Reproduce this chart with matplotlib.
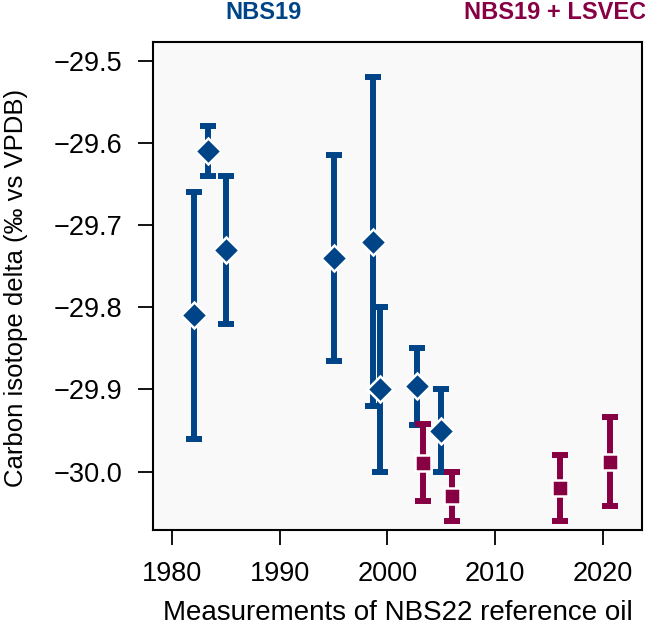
import matplotlib
matplotlib.use("Agg")
import matplotlib.pyplot as plt

plt.rcParams["font.family"] = ["Liberation Sans", "DejaVu Sans"]

# NBS19-calibrated measurements
nbs19_year = [1982, 1983.3, 1985, 1995, 1998.7, 1999.3, 2002.7, 2005]
nbs19_delta = [-29.81, -29.61, -29.73, -29.74, -29.72, -29.90, -29.896, -29.95]
nbs19_err = [0.15, 0.03, 0.09, 0.125, 0.20, 0.10, 0.047, 0.05]

# NBS19 + LSVEC two-point calibration
lsvec_year = [2003.3, 2006, 2016, 2020.7]
lsvec_delta = [-29.989, -30.03, -30.02, -29.988]
lsvec_err = [0.047, 0.03, 0.04, 0.054]

yticks = [-29.5, -29.6, -29.7, -29.8, -29.9, -30.0]
xticks = [1980, 1990, 2000, 2010, 2020]

blue = "#004488"
wine = "#880044"

fig = plt.figure(figsize=(6.45, 6.36), dpi=100)
ax = fig.add_axes([0.2377, 0.1667, 0.9953 - 0.2377, 0.934 - 0.1667])
ax.set_facecolor("#f9f9f9")

for yr, d, e, col, mk, ms in [
    (nbs19_year, nbs19_delta, nbs19_err, blue, "D", 13.5),
    (lsvec_year, lsvec_delta, lsvec_err, wine, "s", 11.5),
]:
    ax.errorbar(yr, d, yerr=e, fmt="none", ecolor=col, elinewidth=4.3,
                capsize=6, capthick=4.3, zorder=2)
    ax.plot(yr, d, linestyle="none", marker=mk, markersize=ms, color=col,
            markeredgecolor="white", markeredgewidth=1.8, zorder=3)

ax.set_xlim(1978.24, 2023.65)
ax.set_ylim(-30.0709, -29.4773)
ax.set_xticks(xticks)
ax.set_yticks(yticks)
ax.set_yticklabels([f"{v:.1f}".replace("-", "\u2212") for v in yticks])
ax.tick_params(axis="both", direction="out", length=11, width=1.3,
               labelsize=19.5, pad=11)
for s in ax.spines.values():
    s.set_linewidth(1.5)

ax.set_xlabel("Measurements of NBS22 reference oil", fontsize=20, labelpad=10)
ax.set_ylabel("Carbon isotope delta (\u2030 vs VPDB)", fontsize=18.5)
ax.yaxis.set_label_coords(-0.256, 0.497)

fig.text(0.409, 0.981, "NBS19", color=blue, fontsize=17, fontweight="bold",
         ha="center", va="center")
fig.text(0.8605, 0.981, "NBS19 + LSVEC", color=wine, fontsize=17,
         fontweight="bold", ha="center", va="center")

fig.savefig("out.png", dpi=100)
